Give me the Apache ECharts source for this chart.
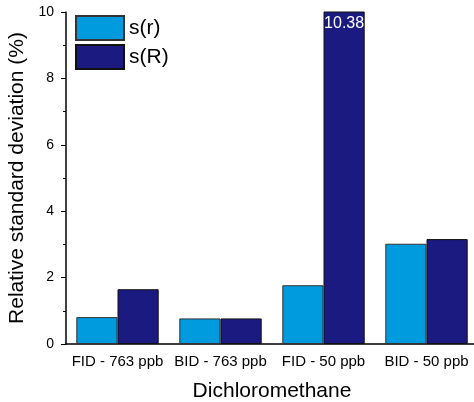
<!DOCTYPE html>
<html><head><meta charset="utf-8">
<script src="https://cdn.jsdelivr.net/npm/echarts@6/dist/echarts.min.js"></script>
<style>html,body{margin:0;padding:0;background:#fff}#c{width:474px;height:402px}</style>
</head><body><div id="c"></div>
<script>
var categories = ['FID - 763 ppb', 'BID - 763 ppb', 'FID - 50 ppb', 'BID - 50 ppb'];
var sr = [0.81, 0.77, 1.77, 3.02];
var sR = [1.65, 0.77, 10.38, 3.16];
var yTicks = [0, 2, 4, 6, 8, 10];
var F = 'Liberation Sans, Arial, sans-serif';
var chart = echarts.init(document.getElementById('c'));
chart.setOption({
  animation: false,
  textStyle: {fontFamily: F},
  grid: {left: 66, right: -4, top: 12, bottom: 58, containLabel: false, outerBoundsMode: 'none'},
  legend: {
    orient: 'vertical', left: 75, top: 15, itemWidth: 48, itemHeight: 24, itemGap: 3,
    padding: 0, icon: 'rect',
    textStyle: {fontSize: 21, color: '#000', fontFamily: F},
    data: ['s(r)', 's(R)']
  },
  xAxis: [{
    type: 'category', data: categories,
    name: 'Dichloromethane', nameLocation: 'middle', nameGap: 37,
    nameTextStyle: {fontSize: 21, color: '#000', fontFamily: F},
    axisLine: {lineStyle: {color: '#000', width: 1.5}},
    axisTick: {alignWithLabel: true, length: 5, lineStyle: {color: '#000'}},
    axisLabel: {interval: 0, fontSize: 15, color: '#000', margin: 10, fontFamily: F}
  }, {
    type: 'category', data: categories, position: 'bottom',
    axisLine: {show: false}, axisLabel: {show: false},
    axisTick: {length: 3, lineStyle: {color: '#000'}}
  }],
  yAxis: {
    type: 'value', min: 0, max: 10, interval: 2,
    name: 'Relative standard deviation (%)', nameLocation: 'middle', nameGap: 34,
    nameTextStyle: {fontSize: 21, color: '#000', fontFamily: F},
    axisLine: {show: true, lineStyle: {color: '#000', width: 1.5}},
    axisTick: {show: true, length: 5, lineStyle: {color: '#000'}},
    minorTick: {show: true, splitNumber: 2, length: 3, lineStyle: {color: '#000'}},
    splitLine: {show: false},
    axisLabel: {fontSize: 14, color: '#000', margin: 12, fontFamily: F,
      formatter: function (v) { return yTicks.indexOf(v) >= 0 ? String(v) : ''; }}
  },
  series: [{
    name: 's(r)', type: 'bar', data: sr, barGap: '0%', barCategoryGap: '20%',
    itemStyle: {color: '#009ADE', borderColor: '#333', borderWidth: 1}
  }, {
    name: 's(R)', type: 'bar', data: sR.map(function (v, i) {
      return v > 10 ? {value: v, label: {show: true, position: 'insideTop', distance: 4,
        color: '#fff', fontSize: 16, fontFamily: F, formatter: String(v)}} : v;
    }),
    barGap: '0%', barCategoryGap: '20%', clip: true,
    itemStyle: {color: '#1B1A80', borderColor: '#111', borderWidth: 1}
  }]
});
</script></body></html>
